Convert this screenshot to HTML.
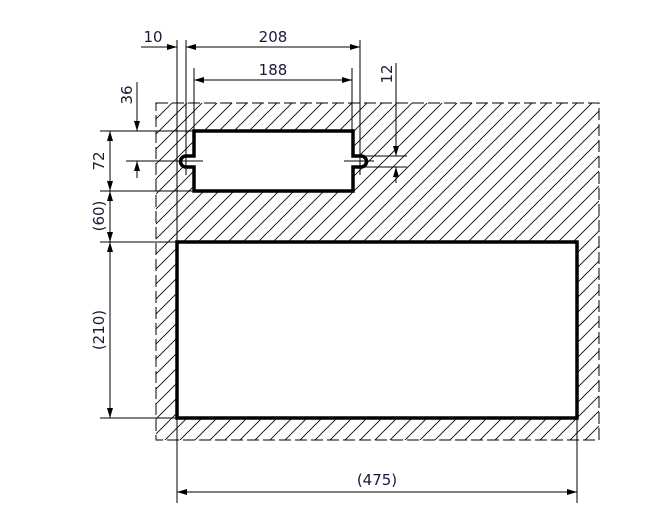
<!DOCTYPE html>
<html><head><meta charset="utf-8"><style>html,body{margin:0;padding:0;background:#fff}svg{display:block}text{font-family:"DejaVu Sans","Liberation Sans",sans-serif;font-size:15px;fill:#1a1a3a}</style></head>
<body>
<svg width="652" height="509" viewBox="0 0 652 509" xmlns="http://www.w3.org/2000/svg">
<defs>
<pattern id="h" width="15" height="15" patternUnits="userSpaceOnUse" patternTransform="translate(5,0)">
<path d="M-1,16 L16,-1 M-8,8 L8,-8 M7,23 L23,7" stroke="#000" stroke-width="0.8"/>
</pattern>
<marker id="a" viewBox="0 0 10 6" refX="10" refY="3" markerWidth="10" markerHeight="6" orient="auto-start-reverse" markerUnits="userSpaceOnUse"><path d="M0,0 L10,3 L0,6 z" fill="#000"/></marker>
</defs>
<rect x="156" y="103" width="443" height="337" fill="url(#h)"/>
<rect x="156" y="103" width="443" height="337" fill="none" stroke="#000" stroke-width="1" stroke-dasharray="12,4"/>
<rect x="177" y="242" width="400" height="176" fill="#fff" stroke="#000" stroke-width="3.5"/>
<path d="M194,131 L353,131 L353,156 L361,156 A5.5,5.5 0 0 1 361,167 L353,167 L353,191 L194,191 L194,167 L186,167 A5.5,5.5 0 0 1 186,156 L194,156 Z" fill="#fff" stroke="#000" stroke-width="3.5"/>
<g stroke="#000" stroke-width="1" fill="none">
<line x1="177" y1="40" x2="177" y2="503"/>
<line x1="577" y1="418" x2="577" y2="503"/>
<line x1="186" y1="40" x2="186" y2="175"/>
<line x1="360" y1="40" x2="360" y2="175"/>
<line x1="194" y1="68" x2="194" y2="131"/>
<line x1="352" y1="68" x2="352" y2="131"/>
<line x1="126" y1="131" x2="194" y2="131"/>
<line x1="126" y1="161" x2="203" y2="161"/>
<line x1="344" y1="161" x2="374" y2="161"/>
<line x1="356" y1="156" x2="407" y2="156"/>
<line x1="356" y1="167" x2="407" y2="167"/>
<line x1="100" y1="131" x2="126" y2="131"/>
<line x1="100" y1="191" x2="194" y2="191"/>
<line x1="100" y1="242" x2="177" y2="242"/>
<line x1="100" y1="418" x2="177" y2="418"/>
<line x1="141" y1="47" x2="177" y2="47" marker-end="url(#a)"/>
<line x1="186" y1="47" x2="360" y2="47" marker-start="url(#a)" marker-end="url(#a)"/>
<line x1="194" y1="80" x2="352" y2="80" marker-start="url(#a)" marker-end="url(#a)"/>
<line x1="396" y1="63" x2="396" y2="156" marker-end="url(#a)"/>
<line x1="396" y1="167" x2="396" y2="183" marker-start="url(#a)"/>
<line x1="137" y1="82" x2="137" y2="131" marker-end="url(#a)"/>
<line x1="137" y1="161" x2="137" y2="178" marker-start="url(#a)"/>
<line x1="110" y1="131" x2="110" y2="191" marker-start="url(#a)" marker-end="url(#a)"/>
<line x1="110" y1="191" x2="110" y2="242" marker-start="url(#a)" marker-end="url(#a)"/>
<line x1="110" y1="242" x2="110" y2="418" marker-start="url(#a)" marker-end="url(#a)"/>
<line x1="177" y1="492" x2="577" y2="492" marker-start="url(#a)" marker-end="url(#a)"/>
</g>
<text x="153" y="42" text-anchor="middle">10</text>
<text x="273" y="42" text-anchor="middle">208</text>
<text x="273" y="75" text-anchor="middle">188</text>
<text x="377" y="485" text-anchor="middle">(475)</text>
<text transform="translate(392,74) rotate(-90)" text-anchor="middle">12</text>
<text transform="translate(132,95) rotate(-90)" text-anchor="middle">36</text>
<text transform="translate(104,161) rotate(-90)" text-anchor="middle">72</text>
<text transform="translate(104,216) rotate(-90)" text-anchor="middle">(60)</text>
<text transform="translate(104,330) rotate(-90)" text-anchor="middle">(210)</text>
</svg>
</body></html>
